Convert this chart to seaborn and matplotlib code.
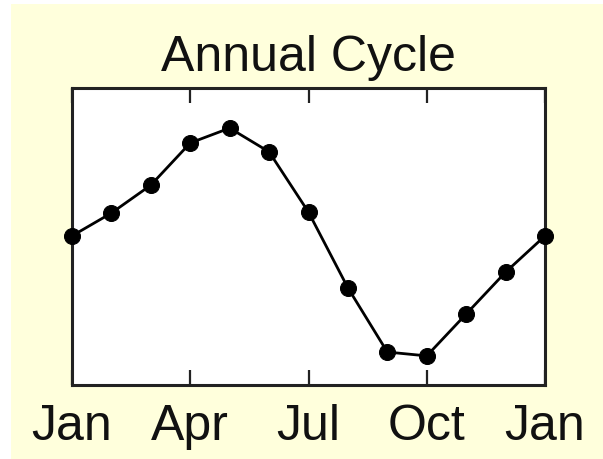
import matplotlib
matplotlib.use("Agg")
import matplotlib.pyplot as plt
from matplotlib.patches import Rectangle
import seaborn as sns
import pandas as pd

months = list(range(13))
values = [5.02, 5.79, 6.73, 8.15, 8.65, 7.85, 5.82, 3.27, 1.11, 0.98, 2.39, 3.80, 5.02]
tick_positions = [0, 3, 6, 9, 12]
tick_labels = ["Jan", "Apr", "Jul", "Oct", "Jan"]
title = "Annual Cycle"

sns.set_theme(style="white")
plt.rcParams["font.family"] = ["Liberation Sans", "DejaVu Sans"]

df = pd.DataFrame({"month": months, "value": values})

fig = plt.figure(figsize=(6.03, 4.59), dpi=100, facecolor="white")
bg = Rectangle((11 / 603, 0), 1 - 11 / 603, 1 - 4 / 459,
               transform=fig.transFigure, facecolor="#FFFFDC",
               edgecolor="none", zorder=-10)
fig.add_artist(bg)
ax = fig.add_axes([72 / 603, 1 - 385 / 459, (545 - 72) / 603, (385 - 88) / 459])
ax.set_zorder(1)
ax.set_facecolor("white")

sns.lineplot(data=df, x="month", y="value", ax=ax, color="black",
             linewidth=2.0, marker="o", markersize=11.5, markeredgecolor="black",
             markerfacecolor="black", clip_on=False, zorder=5)

ax.set_xlim(0, 12)
ax.set_ylim(0, 10)
ax.set_xticks(tick_positions)
ax.set_xticklabels(tick_labels, fontsize=36, color="#111111")
ax.set_yticks([])
ax.set_xlabel("")
ax.set_ylabel("")
ax.tick_params(axis="x", direction="in", top=True, bottom=True, labeltop=False,
               length=11, width=1.6, color="#222222", pad=14)
for s in ax.spines.values():
    s.set_visible(True)
    s.set_color("#222222")
    s.set_linewidth(2.2)
ax.set_title(title, fontsize=36, color="#111111", pad=12)

fig.savefig("out.png", dpi=100, facecolor=fig.get_facecolor())
